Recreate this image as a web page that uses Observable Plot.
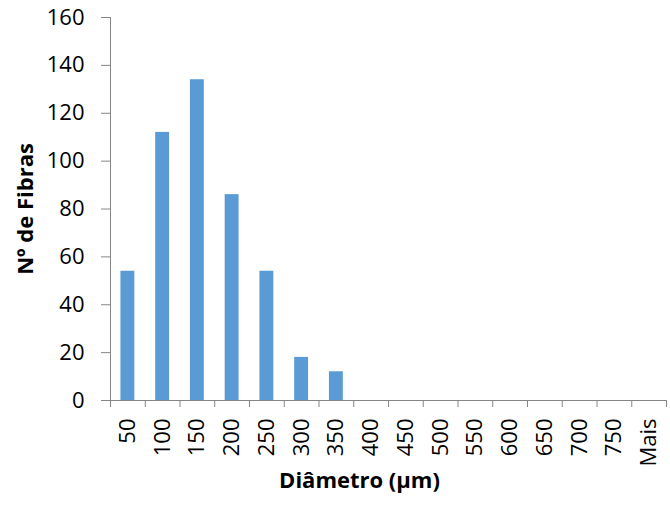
<!DOCTYPE html>
<html>
<head>
<meta charset="utf-8">
<script src="https://cdn.jsdelivr.net/npm/d3@7"></script>
<script src="https://cdn.jsdelivr.net/npm/@observablehq/plot@0.6"></script>
<style>
  html, body { margin: 0; padding: 0; background: #fff; }
</style>
</head>
<body>
<div id="chart"></div>
<script>
const categories = ["50","100","150","200","250","300","350","400","450","500","550","600","650","700","750","Mais"];
const counts = [54, 112, 134, 86, 54, 18, 12, 0, 0, 0, 0, 0, 0, 0, 0, 0];
const yTicks = [0, 20, 40, 60, 80, 100, 120, 140, 160];
const xTitle = "Diâmetro (µm)";
const yTitle = "Nº de Fibras";

const data = categories.map((c, i) => ({cat: c, n: counts[i]}));

const W = 670, H = 507, ML = 110, MR = 4, MT = 17, MB = 107;
const step = (W - ML - MR) / categories.length;
const axisColor = "#868686";
const FS = 22;

const chart = Plot.plot({
  width: W, height: H,
  marginLeft: ML, marginRight: MR, marginTop: MT, marginBottom: MB,
  style: {fontFamily: "'Open Sans', sans-serif", fontSize: FS + "px", color: "#000", background: "#fff"},
  x: {domain: categories, paddingInner: 0.6, paddingOuter: 0.3, round: false, axis: null},
  y: {domain: [0, 160], axis: null},
  marks: [
    Plot.barY(data, {x: "cat", y: "n", fill: "#5B9BD5"}),
    Plot.frame({anchor: "left", stroke: axisColor}),
    Plot.ruleY([0], {stroke: axisColor}),
    Plot.axisY({ticks: yTicks, tickSize: 9, tickPadding: 17, stroke: axisColor, fill: "#000", label: null, fontSize: FS}),
    Plot.axisX({tickSize: 7, tickFormat: () => "", dx: -step / 2, stroke: axisColor, label: null}),
    Plot.axisX({ticks: [categories[categories.length - 1]], tickSize: 7, tickFormat: () => "", dx: step / 2, stroke: axisColor, label: null}),
    Plot.axisX({tickSize: 0, tickRotate: -90, tickPadding: 18, fill: "#000", label: null, fontSize: FS}),
    Plot.text([xTitle], {frameAnchor: "bottom", dx: -29, dy: 87, fontWeight: "bold", fontSize: FS}),
    Plot.text([yTitle], {frameAnchor: "left", textAnchor: "middle", dx: -85, rotate: -90, fontWeight: "bold", fontSize: FS})
  ]
});
document.getElementById("chart").appendChild(chart);
</script>
</body>
</html>
